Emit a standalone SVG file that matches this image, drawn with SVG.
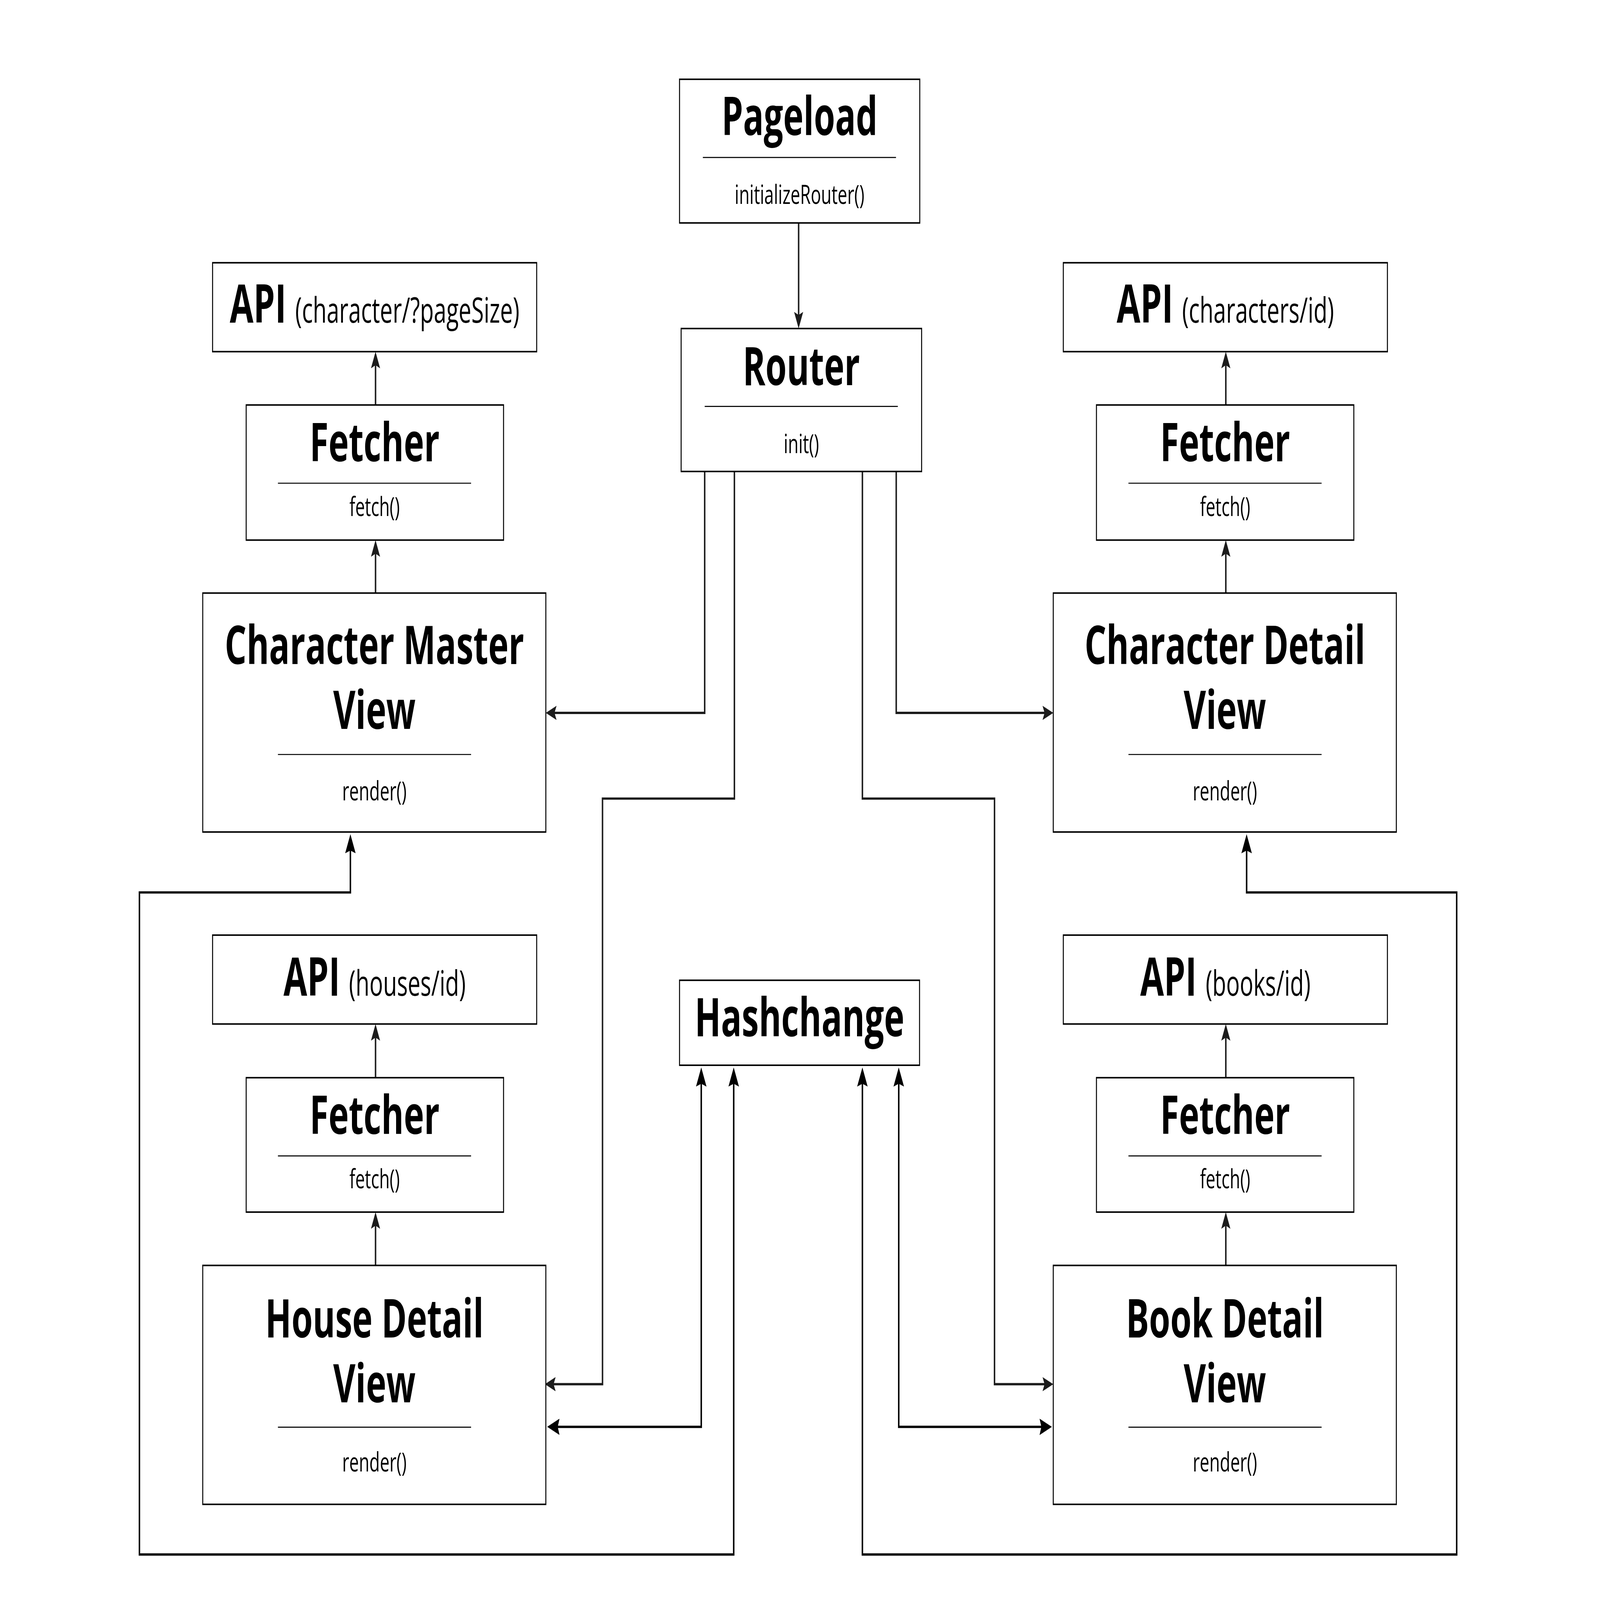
<svg xmlns="http://www.w3.org/2000/svg" width="7000" height="4500" viewBox="0 0 7000 4500" preserveAspectRatio="none" style="width:100vw;height:100vh;display:block">
<style>
.box{fill:#fff;stroke:#000;stroke-width:4.3}
.div{stroke:#000;stroke-width:3}
.t{font-family:"Open Sans","Noto Sans","DejaVu Sans",sans-serif;font-weight:700;font-size:150px;fill:#000;text-anchor:middle}
.s{font-family:"Open Sans","Noto Sans","DejaVu Sans",sans-serif;font-weight:400;font-size:75px;fill:#000;text-anchor:middle}
.p{font-weight:400;font-size:99px}
.c{fill:none;stroke-width:6.5}
.c1{stroke:#1c1c1c;marker-end:url(#ah)}
.c2{stroke:#000;marker-start:url(#ah2);marker-end:url(#ah2)}
</style>
<defs>
<marker id="ah" viewBox="0 0 47 40" markerWidth="47" markerHeight="40" refX="27" refY="20" orient="auto-start-reverse" markerUnits="userSpaceOnUse">
<path d="M0,0 L47,20 L0,40 L9,20 Z" fill="#1c1c1c"/>
</marker>
<marker id="ah2" viewBox="0 0 54 46" markerWidth="54" markerHeight="46" refX="34" refY="23" orient="auto-start-reverse" markerUnits="userSpaceOnUse">
<path d="M0,0 L54,23 L0,46 L8,23 Z" fill="#000"/>
</marker>
</defs>
<rect width="7000" height="4500" fill="#fff"/>

<g id="connectors">
<path class="c c1" d="M3494,627 V904"/>
<path class="c c1" d="M1643,1139 V1009"/>
<path class="c c1" d="M1643,1668 V1539"/>
<path class="c c1" d="M1643,3031 V2900"/>
<path class="c c1" d="M1643,3559 V3429"/>
<path class="c c1" d="M5363,1139 V1009"/>
<path class="c c1" d="M5363,1668 V1539"/>
<path class="c c1" d="M5363,3031 V2900"/>
<path class="c c1" d="M5363,3559 V3429"/>
<path class="c c1" d="M3083,1326 V2005 H2408"/>
<path class="c c1" d="M3921,1326 V2005 H4588"/>
<path class="c c1" d="M3213,1326 V2246 H2636 V3893 H2404"/>
<path class="c c1" d="M3773,1326 V2246 H4351 V3893 H4588"/>
<path class="c c2" d="M3068,3022 V4013 H2414"/>
<path class="c c2" d="M3932,3022 V4013 H4582"/>
<path class="c c2" d="M3210,3022 V4372 H610 V2510 H1533 V2366"/>
<path class="c c2" d="M3773,3022 V4372 H6373 V2510 H5454 V2366"/>
</g>

<g id="pageload">
<rect class="box" x="2973" y="223" width="1051" height="404"/>
<text class="t" x="3498" y="380">Pageload</text>
<line class="div" x1="3075" y1="443" x2="3920" y2="443"/>
<text class="s" x="3498" y="573">initializeRouter()</text>
</g>

<g id="router">
<rect class="box" x="2980" y="924" width="1052" height="402"/>
<text class="t" x="3506" y="1083">Router</text>
<line class="div" x1="3083" y1="1143" x2="3928" y2="1143"/>
<text class="s" x="3506" y="1274">init()</text>
</g>

<g id="hashchange">
<rect class="box" x="2973" y="2757" width="1050" height="239"/>
<text class="t" x="3498" y="2915">Hashchange</text>
</g>

<g id="api-characters-pagesize">
<rect class="box" x="930" y="739" width="1418" height="250"/>
<text class="t" x="1639" y="908">API <tspan class="p">(character/?pageSize)</tspan></text>
</g>
<g id="fetcher-1">
<rect class="box" x="1077" y="1139" width="1126" height="380"/>
<text class="t" x="1639" y="1297">Fetcher</text>
<line class="div" x1="1216" y1="1359" x2="2061" y2="1359"/>
<text class="s" x="1639" y="1451">fetch()</text>
</g>
<g id="character-master-view">
<rect class="box" x="887" y="1668" width="1501" height="672"/>
<text class="t"><tspan x="1638" y="1868">Character Master</tspan><tspan x="1638" y="2050">View</tspan></text>
<line class="div" x1="1216" y1="2122" x2="2061" y2="2122"/>
<text class="s" x="1638" y="2251">render()</text>
</g>

<g id="api-houses">
<rect class="box" x="930" y="2630" width="1418" height="250"/>
<text class="t" x="1639" y="2800">API <tspan class="p">(houses/id)</tspan></text>
</g>
<g id="fetcher-2">
<rect class="box" x="1077" y="3031" width="1126" height="378"/>
<text class="t" x="1639" y="3189">Fetcher</text>
<line class="div" x1="1216" y1="3251" x2="2061" y2="3251"/>
<text class="s" x="1639" y="3342">fetch()</text>
</g>
<g id="house-detail-view">
<rect class="box" x="887" y="3559" width="1501" height="672"/>
<text class="t"><tspan x="1638" y="3762">House Detail</tspan><tspan x="1638" y="3944">View</tspan></text>
<line class="div" x1="1216" y1="4014" x2="2061" y2="4014"/>
<text class="s" x="1638" y="4139">render()</text>
</g>

<g id="api-characters-id">
<rect class="box" x="4652" y="739" width="1418" height="250"/>
<text class="t" x="5361" y="908">API <tspan class="p">(characters/id)</tspan></text>
</g>
<g id="fetcher-3">
<rect class="box" x="4797" y="1139" width="1126" height="380"/>
<text class="t" x="5360" y="1297">Fetcher</text>
<line class="div" x1="4937" y1="1359" x2="5782" y2="1359"/>
<text class="s" x="5360" y="1451">fetch()</text>
</g>
<g id="character-detail-view">
<rect class="box" x="4608" y="1668" width="1501" height="672"/>
<text class="t"><tspan x="5359" y="1868">Character Detail</tspan><tspan x="5359" y="2050">View</tspan></text>
<line class="div" x1="4937" y1="2122" x2="5782" y2="2122"/>
<text class="s" x="5359" y="2251">render()</text>
</g>

<g id="api-books">
<rect class="box" x="4652" y="2630" width="1418" height="250"/>
<text class="t" x="5361" y="2800">API <tspan class="p">(books/id)</tspan></text>
</g>
<g id="fetcher-4">
<rect class="box" x="4797" y="3031" width="1126" height="378"/>
<text class="t" x="5360" y="3189">Fetcher</text>
<line class="div" x1="4937" y1="3251" x2="5782" y2="3251"/>
<text class="s" x="5360" y="3342">fetch()</text>
</g>
<g id="book-detail-view">
<rect class="box" x="4608" y="3559" width="1501" height="672"/>
<text class="t"><tspan x="5359" y="3762">Book Detail</tspan><tspan x="5359" y="3944">View</tspan></text>
<line class="div" x1="4937" y1="4014" x2="5782" y2="4014"/>
<text class="s" x="5359" y="4139">render()</text>
</g>
</svg>
